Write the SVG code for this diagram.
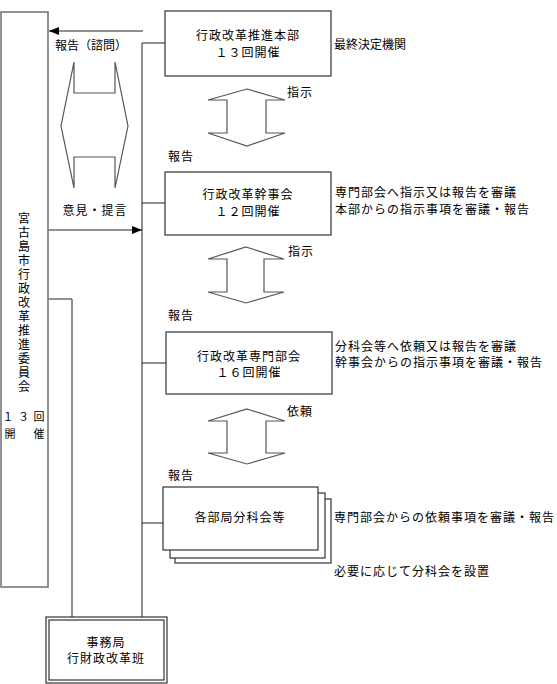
<svg xmlns="http://www.w3.org/2000/svg" width="557" height="684" viewBox="0 0 557 684">
<defs>
<style>
text{font-family:"Noto Sans CJK JP","Noto Sans CJK SC",sans-serif;font-size:12px;fill:#000;letter-spacing:1px;}
.c{text-anchor:middle;}
.n{letter-spacing:0;}
.box{fill:#fff;stroke:#333;stroke-width:1.2;}
.gbox{fill:#fff;stroke:#777;stroke-width:1.6;}
.ln{fill:none;stroke:#222;stroke-width:1;}
.dbl{fill:#fff;stroke:#555;stroke-width:1.2;}
.v{writing-mode:vertical-rl;letter-spacing:2px;}
.s{font-size:11px;}
</style>
<marker id="ah" markerWidth="10" markerHeight="8" refX="10" refY="4" orient="auto" markerUnits="userSpaceOnUse">
<path d="M0,0 L10,4 L0,8 Z" fill="#000"/>
</marker>
</defs>
<rect width="557" height="684" fill="#fff"/>

<g id="connectors">
<polyline class="ln" points="165,43 142,43 142,617"/>
<line class="ln" x1="142" y1="203" x2="165" y2="203"/>
<line class="ln" x1="142" y1="363" x2="166" y2="363"/>
<line class="ln" x1="142" y1="523" x2="163" y2="523"/>
<polyline class="ln" points="48,299 72,299 72,617"/>
<line class="ln" x1="143" y1="31" x2="49" y2="31" marker-end="url(#ah)"/>
<line class="ln" x1="47" y1="230" x2="142" y2="230" marker-end="url(#ah)"/>
<path class="dbl" d="M74,62 L74,93 L115,93 L115,62 L128,126 L115,188 L115,157 L74,157 L74,188 L61,126 Z"/>
<path class="dbl" d="M247,89 L285,100 L266,100 L266,133 L285,133 L247,146 L208,133 L227,133 L227,100 L208,100 Z"/>
<path class="dbl" d="M246,247 L284,259 L264,259 L264,292 L284,292 L246,303 L208,292 L227,292 L227,259 L208,259 Z"/>
<path class="dbl" d="M247,409 L285,421 L266,421 L266,453 L285,453 L247,464 L208,453 L227,453 L227,421 L208,421 Z"/>
<text x="91" y="50" class="c n">報告（諮問）</text>
<text x="95" y="215" class="c">意見・提言</text>
<text x="287" y="97">指示</text>
<text x="288" y="256">指示</text>
<text x="287" y="416">依頼</text>
<text x="168" y="161">報告</text>
<text x="168" y="320">報告</text>
<text x="168" y="480">報告</text>
</g>

<g id="committee">
<rect class="gbox" x="1" y="12" width="47" height="575"/>
<text class="v" x="24" y="212">宮古島市行政改革推進委員会</text>
<text class="s" x="2.5" y="421" style="letter-spacing:4.5px">１３回</text>
<text class="s" x="4.5" y="438" style="letter-spacing:3.5px">開　催</text>
</g>

<g id="honbu">
<rect class="box" x="165" y="11" width="166" height="65"/>
<text class="c" x="248" y="40">行政改革推進本部</text>
<text class="c" x="248" y="57">１３回開催</text>
<text class="n" x="334" y="49">最終決定機関</text>
</g>

<g id="kanjikai">
<rect class="box" x="165" y="172" width="166" height="63"/>
<text class="c" x="248" y="199">行政改革幹事会</text>
<text class="c" x="248" y="216">１２回開催</text>
<text x="335" y="197">専門部会へ指示又は報告を審議</text>
<text x="335" y="214">本部からの指示事項を審議・報告</text>
</g>

<g id="senmon">
<rect class="box" x="166" y="332" width="166" height="62"/>
<text class="c" x="249" y="361">行政改革専門部会</text>
<text class="c" x="249" y="377">１６回開催</text>
<text x="335" y="351">分科会等へ依頼又は報告を審議</text>
<text x="335" y="367">幹事会からの指示事項を審議・報告</text>
</g>

<g id="bunkakai">
<rect class="box" x="175" y="499" width="156" height="64"/>
<rect class="box" x="170" y="493" width="155" height="65"/>
<rect class="box" x="163" y="487" width="155" height="63"/>
<text class="c" x="240" y="522">各部局分科会等</text>
<text x="334" y="522">専門部会からの依頼事項を審議・報告</text>
<text x="334" y="576">必要に応じて分科会を設置</text>
</g>

<g id="jimukyoku">
<rect class="box" x="46" y="617" width="121" height="66"/>
<rect class="box" x="49" y="620" width="115" height="60"/>
<text class="c" x="106" y="647">事務局</text>
<text class="c" x="106" y="663">行財政改革班</text>
</g>
</svg>
